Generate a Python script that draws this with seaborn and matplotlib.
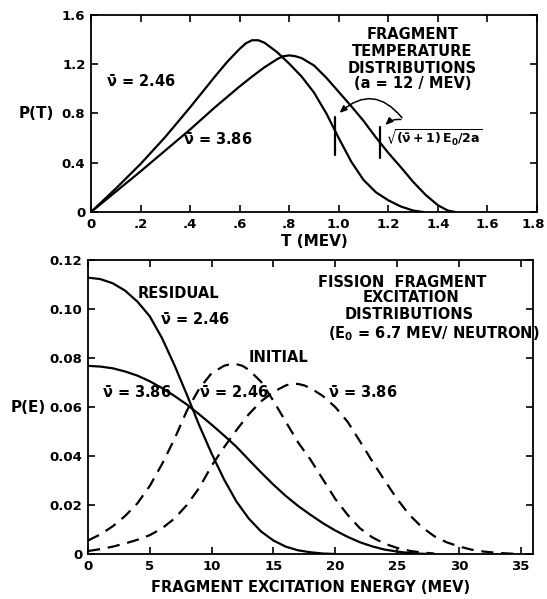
import matplotlib
matplotlib.use("Agg")
import matplotlib.pyplot as plt
import matplotlib.transforms as mtransforms
import numpy as np
import pandas as pd
import seaborn as sns

# ---------------- data: top panel (fragment temperature distributions) ----------------
T_246 = [0.0, 0.1, 0.2, 0.3, 0.4, 0.5, 0.55, 0.6, 0.625, 0.65, 0.675, 0.7, 0.75, 0.8, 0.85,
         0.9, 0.95, 1.0, 1.05, 1.1, 1.15, 1.2, 1.25, 1.3, 1.34]
PT_246 = [0.0, 0.19, 0.39, 0.61, 0.85, 1.10, 1.22, 1.325, 1.37, 1.395, 1.395, 1.375, 1.30, 1.205, 1.10,
          0.97, 0.80, 0.60, 0.41, 0.26, 0.16, 0.095, 0.045, 0.012, 0.0]
T_386 = [0.0, 0.1, 0.2, 0.3, 0.4, 0.5, 0.6, 0.65, 0.7, 0.75, 0.775, 0.8, 0.825, 0.85, 0.9,
         0.95, 1.0, 1.05, 1.1, 1.15, 1.2, 1.25, 1.3, 1.35, 1.4, 1.44, 1.47]
PT_386 = [0.0, 0.165, 0.33, 0.50, 0.67, 0.85, 1.02, 1.10, 1.175, 1.24, 1.265, 1.272, 1.265, 1.25, 1.19,
          1.09, 0.975, 0.86, 0.74, 0.605, 0.48, 0.365, 0.245, 0.14, 0.055, 0.012, 0.0]
nu_values = [2.46, 3.86]
E0 = 6.7      # MeV / neutron
a_param = 12  # 1/MeV

# ---------------- data: bottom panel (excitation distributions) ----------------
E_res_246 = list(range(0, 21))
P_res_246 = [0.1128, 0.1122, 0.1105, 0.1075, 0.1030, 0.0970, 0.0880, 0.0770, 0.0650,
             0.0525, 0.0410, 0.0305, 0.0215, 0.0145, 0.0092, 0.0055, 0.0030, 0.0015,
             0.0007, 0.0002, 0.0]
E_res_386 = list(range(0, 29))
P_res_386 = [0.0768, 0.0765, 0.0758, 0.0745, 0.0728, 0.0705, 0.0677, 0.0645, 0.0610,
             0.0570, 0.0528, 0.0484, 0.0438, 0.0385, 0.0333, 0.0283, 0.0237, 0.0196,
             0.0160, 0.0126, 0.0096, 0.0070, 0.0048, 0.0031, 0.0018, 0.0010, 0.0004,
             0.0001, 0.0]
E_ini_246 = [0, 1, 2, 3, 4, 5, 6, 7, 8, 9, 10, 11, 11.5, 12, 12.5, 13, 14, 15, 16, 17,
             18, 19, 20, 21, 22, 23, 24, 25, 26, 27, 28]
P_ini_246 = [0.0055, 0.0080, 0.0113, 0.0155, 0.0207, 0.0278, 0.0368, 0.0470, 0.0585,
             0.0675, 0.0738, 0.0768, 0.0775, 0.0775, 0.0768, 0.0752, 0.0703, 0.0625,
             0.0540, 0.0455, 0.0385, 0.0305, 0.0225, 0.0160, 0.0105, 0.0068, 0.0042,
             0.0025, 0.0013, 0.0006, 0.0002]
E_ini_386 = [0, 1, 2, 3, 4, 5, 6, 7, 8, 9, 10, 11, 12, 13, 14, 15, 16, 16.5, 17, 17.5,
             18, 19, 20, 21, 22, 23, 24, 25, 26, 27, 28, 29, 30, 31, 32, 33, 34, 35]
P_ini_386 = [0.0012, 0.0020, 0.0030, 0.0043, 0.0058, 0.0077, 0.0105, 0.0145, 0.0200,
             0.0270, 0.0360, 0.0435, 0.0505, 0.0570, 0.0623, 0.0662, 0.0688, 0.0695,
             0.0694, 0.0688, 0.0677, 0.0645, 0.0600, 0.0540, 0.0460, 0.0378, 0.0300,
             0.0225, 0.0160, 0.0110, 0.0073, 0.0048, 0.0031, 0.0018, 0.0010, 0.0005,
             0.0002, 0.0]

top_xticks = [0, 0.2, 0.4, 0.6, 0.8, 1.0, 1.2, 1.4, 1.6, 1.8]
top_xticklabels = ["0", ".2", ".4", ".6", ".8", "1.0", "1.2", "1.4", "1.6", "1.8"]
top_yticks = [0, 0.4, 0.8, 1.2, 1.6]
top_yticklabels = ["0", "0.4", "0.8", "1.2", "1.6"]
bot_xticks = [0, 5, 10, 15, 20, 25, 30, 35]
bot_yticks = [0, 0.02, 0.04, 0.06, 0.08, 0.10, 0.12]
bot_yticklabels = ["0", "0.02", "0.04", "0.06", "0.08", "0.10", "0.12"]

# ---------------- style ----------------
sns.set_theme(style="ticks")
plt.rcParams["font.family"] = ["DejaVu Sans"]
plt.rcParams["font.weight"] = "bold"
plt.rcParams["mathtext.fontset"] = "dejavusans"
plt.rcParams["mathtext.default"] = "bf"
plt.rcParams["axes.linewidth"] = 1.3
plt.rcParams["axes.edgecolor"] = "black"
plt.rcParams["text.color"] = "black"
plt.rcParams["axes.labelcolor"] = "black"
plt.rcParams["xtick.color"] = "black"
plt.rcParams["ytick.color"] = "black"

W, H = 547, 599
fig = plt.figure(figsize=(W / 100, H / 100), dpi=100)
fig.patch.set_facecolor("white")
ax1 = fig.add_axes([91 / W, 1 - 212 / H, (537 - 91) / W, (212 - 15) / H])
ax2 = fig.add_axes([88 / W, 1 - 554 / H, (533 - 88) / W, (554 - 260) / H])

LW = 1.6
DASH = (0, (5.5, 3.5))
tick_fs = 9.5
txt_fs = 10.5

# ---------------- top panel ----------------
df_t1 = pd.DataFrame({"T": T_246, "P": PT_246})
df_t2 = pd.DataFrame({"T": T_386, "P": PT_386})
sns.lineplot(data=df_t1, x="T", y="P", ax=ax1, color="black", lw=LW, sort=False)
sns.lineplot(data=df_t2, x="T", y="P", ax=ax1, color="black", lw=LW, sort=False)

# marker lines at sqrt((nu+1) E0 / 2a)
marker_T = [np.sqrt((nu + 1) * E0 / (2 * a_param)) for nu in nu_values]
ax1.plot([marker_T[0]] * 2, [0.46, 0.775], color="black", lw=LW)
ax1.plot([marker_T[1]] * 2, [0.44, 0.69], color="black", lw=LW)
ax1.annotate("", xy=(marker_T[0] + 0.012, 0.79), xytext=(1.262, 0.748),
             arrowprops=dict(arrowstyle="-|>,head_length=0.35,head_width=0.15",
                             connectionstyle="arc3,rad=0.55", color="black", lw=1.1))
ax1.annotate("", xy=(marker_T[1] + 0.016, 0.69), xytext=(1.262, 0.748),
             arrowprops=dict(arrowstyle="-|>,head_length=0.35,head_width=0.15",
                             connectionstyle="arc3,rad=0.3", color="black", lw=1.1))
ax1.text(1.19, 0.60, r"$\sqrt{(\bar{\nu}+1)\,E_0/2a}$", fontsize=9, ha="left", va="center")

ax1.text(0.06, 1.06, r"$\bar{\nu}$ = 2.46", fontsize=txt_fs, ha="left", va="center")
ax1.text(0.37, 0.585, r"$\bar{\nu}$ = 3.86", fontsize=txt_fs, ha="left", va="center")
for s, y in zip(["FRAGMENT", "TEMPERATURE", "DISTRIBUTIONS", "(a = 12 / MEV)"],
                [1.44, 1.30, 1.165, 1.045]):
    ax1.text(1.297, y, s, fontsize=txt_fs, ha="center", va="center")

ax1.set_xlim(0, 1.8)
ax1.set_ylim(0, 1.6)
ax1.set_xticks(top_xticks)
ax1.set_xticklabels(top_xticklabels)
ax1.set_yticks(top_yticks)
ax1.set_yticklabels(top_yticklabels)
ax1.set_xlabel("T (MEV)", fontsize=11, fontweight="bold", va="center")
ax1.xaxis.set_label_coords(0.5, -0.152)
ax1.set_ylabel("")
ax1.text(-0.123, 0.5, "P(T)", transform=ax1.transAxes, fontsize=11,
         ha="center", va="center")

# ---------------- bottom panel ----------------
curves = [
    (E_res_246, P_res_246, "-"),
    (E_res_386, P_res_386, "-"),
    (E_ini_246, P_ini_246, DASH),
    (E_ini_386, P_ini_386, DASH),
]
for ex, py, ls in curves:
    d = pd.DataFrame({"E": ex, "P": py})
    sns.lineplot(data=d, x="E", y="P", ax=ax2, color="black", lw=LW, linestyle=ls, sort=False)

ax2.text(7.3, 0.1065, "RESIDUAL", fontsize=txt_fs, ha="center", va="center")
ax2.text(5.8, 0.0955, r"$\bar{\nu}$ = 2.46", fontsize=txt_fs, ha="left", va="center")
ax2.text(15.4, 0.080, "INITIAL", fontsize=txt_fs, ha="center", va="center")
ax2.text(1.1, 0.0657, r"$\bar{\nu}$ = 3.86", fontsize=txt_fs, ha="left", va="center")
ax2.text(9.0, 0.0657, r"$\bar{\nu}$ = 2.46", fontsize=txt_fs, ha="left", va="center")
ax2.text(19.4, 0.0657, r"$\bar{\nu}$ = 3.86", fontsize=txt_fs, ha="left", va="center")
for s, x, y in zip(["FISSION  FRAGMENT", "EXCITATION", "DISTRIBUTIONS",
                    r"(E$_0$ = 6.7 MEV/ NEUTRON)"],
                   [25.4, 26.1, 26.0, 28.0],
                   [0.111, 0.1045, 0.0976, 0.090]):
    ax2.text(x, y, s, fontsize=txt_fs, ha="center", va="center")

ax2.set_xlim(0, 36)
ax2.set_ylim(0, 0.12)
ax2.set_xticks(bot_xticks)
ax2.set_yticks(bot_yticks)
ax2.set_yticklabels(bot_yticklabels)
ax2.set_xlabel("FRAGMENT EXCITATION ENERGY (MEV)", fontsize=10.5, fontweight="bold", va="center")
ax2.xaxis.set_label_coords(0.5, -0.114)
ax2.set_ylabel("")
ax2.text(-0.135, 0.5, "P(E)", transform=ax2.transAxes, fontsize=11,
         ha="center", va="center")

for ax in (ax1, ax2):
    ax.tick_params(direction="in", top=True, right=True, length=5, width=1.2,
                   labelsize=tick_fs, pad=4, colors="black")
    for lab in ax.get_xticklabels() + ax.get_yticklabels():
        lab.set_fontweight("bold")
    for sp in ax.spines.values():
        sp.set_visible(True)
        sp.set_color("black")

# nudge the last top tick label so it stays inside the figure
last = ax1.get_xticklabels()[-1]
last.set_transform(last.get_transform() + mtransforms.ScaledTranslation(-4 / 100, 0, fig.dpi_scale_trans))

fig.savefig("out.png", dpi=100, facecolor="white")
